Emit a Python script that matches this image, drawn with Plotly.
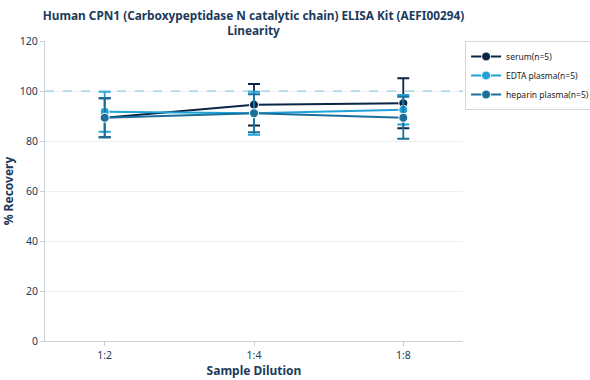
import plotly.graph_objects as go

dilutions = ["1:2", "1:4", "1:8"]
series_names = ["serum(n=5)", "EDTA plasma(n=5)", "heparin plasma(n=5)"]
serum = [89.3, 94.5, 95.1]
serum_err = [7.8, 8.3, 10.0]
edta = [91.7, 91.1, 92.5]
edta_err = [8.0, 8.6, 5.9]
heparin = [89.3, 91.1, 89.3]
heparin_err = [7.8, 7.6, 8.4]
colors = ["#0b2545", "#1fa2d6", "#1a6f9c"]
y_ticks = [0, 20, 40, 60, 80, 100, 120]

fig = go.Figure()
for name, vals, errs, col in zip(series_names, [serum, edta, heparin],
                                 [serum_err, edta_err, heparin_err], colors):
    fig.add_trace(go.Scatter(
        x=dilutions, y=vals, name=name, mode="lines+markers",
        line=dict(color=col, width=2),
        marker=dict(color=col, size=9, line=dict(color="white", width=1)),
        error_y=dict(type="data", array=errs, visible=True, color=col,
                     thickness=1.8, width=6),
    ))

fig.add_hline(y=100, line=dict(color="#7fc6e0", width=1, dash="dash"))

font_col = "#1b3a5c"
fig.update_layout(
    width=590, height=380,
    margin=dict(l=45, r=127, t=41, b=39, autoexpand=False),
    paper_bgcolor="white", plot_bgcolor="white",
    font=dict(family="Noto Sans", size=11, color=font_col),
    title=dict(
        text="<b>Human CPN1 (Carboxypeptidase N catalytic chain) ELISA Kit (AEFI00294)<br>Linearity</b>",
        xref="container", x=253.5 / 590, xanchor="center",
        yref="container", y=1 - 20 / 380, yanchor="middle",
        font=dict(size=11.8, color=font_col)),
    legend=dict(x=1.005, y=1.0, xanchor="left", yanchor="top",
                bordercolor="#d0d7de", borderwidth=1, itemwidth=30,
                font=dict(size=8.5, color="#222"), tracegroupgap=0),
    showlegend=True,
)
fig.update_xaxes(
    type="category", range=[-0.4, 2.4], automargin=False,
    title=dict(text="<b>Sample Dilution</b>", font=dict(size=12), standoff=6),
    showline=True, linecolor="#c8d0d8", linewidth=1,
    ticks="outside", ticklen=4, tickcolor="#c8d0d8",
    showgrid=False, zeroline=False, tickfont=dict(size=10.5))
fig.update_yaxes(
    range=[0, 120], tickvals=y_ticks, automargin=False,
    title=dict(text="<b>% Recovery</b>", font=dict(size=12), standoff=8),
    showline=True, linecolor="#c8d0d8", linewidth=1,
    ticks="outside", ticklen=4, tickcolor="#c8d0d8",
    showgrid=True, gridcolor="#eceff3", zeroline=False, tickfont=dict(size=10.5))

fig.write_html("out.html", config={"displayModeBar": False},
               post_script="document.body.style.margin='0';document.body.style.overflow='hidden';")
